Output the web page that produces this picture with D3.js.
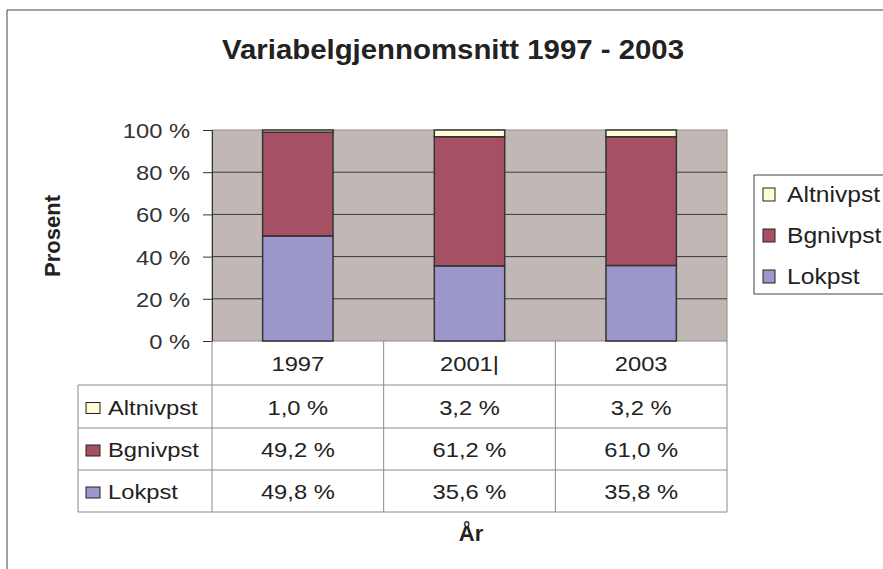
<!DOCTYPE html>
<html><head><meta charset="utf-8">
<script src="https://cdn.jsdelivr.net/npm/d3@7"></script>
<style>body{margin:0;background:#fff}svg{display:block;font-family:"Liberation Sans",Arial,sans-serif}</style>
</head><body><svg id="c" width="883" height="569"></svg>
<script>
const categories = ["1997", "2001|", "2003"];
const seriesNames = ["Altnivpst", "Bgnivpst", "Lokpst"];
const altnivpst = [1.0, 3.2, 3.2];
const bgnivpst = [49.2, 61.2, 61.0];
const lokpst = [49.8, 35.6, 35.8];
const yTicks = [0, 20, 40, 60, 80, 100];
const colors = {Altnivpst: "#FFFBD2", Bgnivpst: "#A65163", Lokpst: "#9C97CA"};

const FS = 21, SX = 1.13;
const svg = d3.select("#c");
const M = {l: 212, r: 727, t: 130, b: 341};
const x = d3.scaleBand().domain(categories).range([M.l, M.r]).paddingInner(0.59).paddingOuter(0.295);
const xc = d3.scaleBand().domain(categories).range([M.l, M.r]);
const y = d3.scaleLinear().domain([0, 100]).range([M.b, M.t]);

function stext(g, px, py, txt, anchor, size, sx) {
  return g.append("text").attr("transform", `translate(${px},${py}) scale(${sx || SX},1)`)
    .attr("text-anchor", anchor || "start").attr("font-size", size || FS).attr("fill", "#222").text(txt);
}

// outer border
svg.append("path").attr("d", "M7,575 V10 H890").attr("fill", "none").attr("stroke", "#444").attr("stroke-width", 1);

// title
svg.append("text").attr("x", 453).attr("y", 59).attr("text-anchor", "middle")
  .attr("font-size", 28).attr("font-weight", "bold").attr("fill", "#222")
  .attr("textLength", 462).attr("lengthAdjust", "spacingAndGlyphs")
  .text("Variabelgjennomsnitt 1997 - 2003");

// plot area
svg.append("rect").attr("x", M.l).attr("y", M.t).attr("width", M.r - M.l).attr("height", M.b - M.t)
  .attr("fill", "#C1B8B5").attr("stroke", "#8f8886").attr("stroke-width", 1);

// gridlines
svg.append("g").selectAll("line").data(yTicks.filter(d => d > 0 && d < 100)).join("line")
  .attr("x1", M.l).attr("x2", M.r).attr("y1", d => y(d)).attr("y2", d => y(d))
  .attr("stroke", "#3a3a3a").attr("stroke-width", 1);

// y axis
const yAxis = d3.axisLeft(y).tickValues(yTicks).tickFormat(d => d + " %").tickSize(9).tickPadding(13);
const ga = svg.append("g").attr("transform", `translate(${M.l},0)`).call(yAxis);
ga.attr("font-size", null).attr("font-family", null);
ga.select(".domain").attr("stroke", "#333");
ga.selectAll(".tick line").attr("stroke", "#333");
ga.selectAll(".tick text").attr("font-size", FS).attr("fill", "#333").attr("dy", "0.36em")
  .attr("x", -22 / SX).attr("transform", `scale(${SX},1)`);

// stacked data
const rows = categories.map((c, i) => ({cat: c, Lokpst: lokpst[i], Bgnivpst: bgnivpst[i], Altnivpst: altnivpst[i]}));
const stack = d3.stack().keys(["Lokpst", "Bgnivpst", "Altnivpst"]);
const layers = stack(rows);
svg.append("g").selectAll("g").data(layers).join("g").attr("fill", d => colors[d.key])
  .selectAll("rect").data(d => d).join("rect")
  .attr("x", d => x(d.data.cat)).attr("width", x.bandwidth())
  .attr("y", d => y(d[1])).attr("height", d => y(d[0]) - y(d[1]))
  .attr("stroke", "#333").attr("stroke-width", 1.5);

// data table
const rowY = [341, 385, 428, 470, 512];
const tl = 78;
const tg = svg.append("g").attr("stroke", "#8a8a8a").attr("stroke-width", 1);
xc.domain().forEach(c => {
  tg.append("line").attr("x1", xc(c)).attr("x2", xc(c)).attr("y1", 341).attr("y2", 512);
});
tg.append("line").attr("x1", M.r).attr("x2", M.r).attr("y1", 341).attr("y2", 512);
tg.append("line").attr("x1", tl).attr("x2", tl).attr("y1", 385).attr("y2", 512);
rowY.slice(1).forEach(v => tg.append("line").attr("x1", tl).attr("x2", M.r).attr("y1", v).attr("y2", v));

// header labels
const tt = svg.append("g");
categories.forEach(c => stext(tt, xc(c) + xc.bandwidth() / 2, 371, c, "middle"));

const vals = {Altnivpst: altnivpst, Bgnivpst: bgnivpst, Lokpst: lokpst};
const fmt = v => v.toFixed(1).replace(".", ",") + " %";
seriesNames.forEach((s, r) => {
  const yc = (rowY[r + 1] + rowY[r + 2]) / 2;
  svg.append("rect").attr("x", 86).attr("y", yc - 4).attr("width", 14).attr("height", 11)
    .attr("fill", colors[s]).attr("stroke", "#222").attr("stroke-width", 1);
  stext(tt, 108, yc + 8, s, "start");
  categories.forEach((c, i) => stext(tt, xc(c) + xc.bandwidth() / 2, yc + 8, fmt(vals[s][i]), "middle"));
});

// axis titles
svg.append("text").attr("x", 471).attr("y", 541).attr("text-anchor", "middle").attr("font-size", 22)
  .attr("font-weight", "bold").attr("fill", "#222").text("År");
svg.append("text").attr("transform", "translate(60,236) rotate(-90)").attr("text-anchor", "middle")
  .attr("font-size", 22).attr("font-weight", "bold").attr("fill", "#222").text("Prosent");

// legend
svg.append("rect").attr("x", 754).attr("y", 175).attr("width", 140).attr("height", 119)
  .attr("fill", "#fff").attr("stroke", "#444").attr("stroke-width", 1);
const ly = [195, 236, 277];
seriesNames.forEach((s, i) => {
  svg.append("rect").attr("x", 763).attr("y", ly[i] - 7).attr("width", 12).attr("height", 13)
    .attr("fill", colors[s]).attr("stroke", "#222").attr("stroke-width", 1);
  stext(svg, 787, ly[i] + 7, s, "start", 22, 1.12);
});
</script></body></html>
